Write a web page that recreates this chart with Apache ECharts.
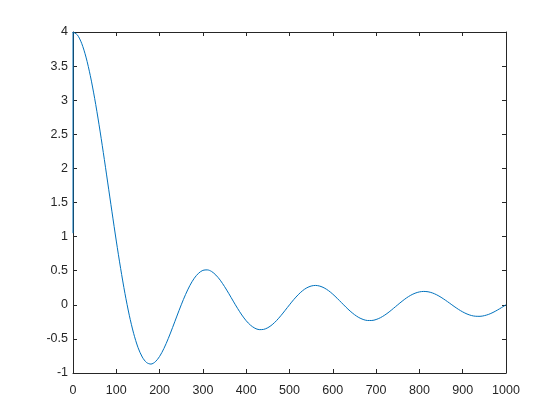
<!DOCTYPE html>
<html>
<head>
<meta charset="utf-8">
<script src="https://cdn.jsdelivr.net/npm/echarts@6/dist/echarts.min.js"></script>
<style>html,body{margin:0;padding:0;background:#fff}#c{width:560px;height:420px}</style>
</head>
<body>
<div id="c"></div>
<script>
// x positions of samples
var xValues = [];
for (var i = 0; i <= 100; i++) xValues.push(i * 10);
// y values at each x
var yValues = [
  4.000, 3.958, 3.834, 3.632, 3.359, 3.027, 2.647, 2.233, 1.800, 1.363,
  0.935, 0.533, 0.166, -0.153, -0.418, -0.624, -0.766, -0.847, -0.869, -0.836,
  -0.757, -0.640, -0.495, -0.333, -0.165, 0.000, 0.152, 0.284, 0.389, 0.463,
  0.505, 0.512, 0.489, 0.436, 0.361, 0.267, 0.163, 0.054, -0.052, -0.150,
  -0.234, -0.299, -0.343, -0.364, -0.361, -0.336, -0.292, -0.232, -0.160, -0.081,
  0.000, 0.078, 0.147, 0.206, 0.249, 0.275, 0.284, 0.274, 0.248, 0.208,
  0.156, 0.096, 0.032, -0.032, -0.092, -0.144, -0.186, -0.215, -0.230, -0.230,
  -0.216, -0.189, -0.151, -0.105, -0.053, 0.000, 0.052, 0.100, 0.140, 0.170,
  0.189, 0.196, 0.191, 0.174, 0.146, 0.110, 0.068, 0.023, -0.023, -0.066,
  -0.104, -0.135, -0.157, -0.168, -0.169, -0.159, -0.140, -0.112, -0.078, -0.040,
  0.000
];
// initial vertical segment at x = 0
var startX = [0, 0];
var startY = [1.05, 4.0];

var xTicks = {min: 0, max: 1000, interval: 100};
var yTicks = {min: -1, max: 4, interval: 0.5};

var mainData = xValues.map(function (x, i) { return [x, yValues[i]]; });
var startData = startX.map(function (x, i) { return [x, startY[i]]; });

var axisColor = '#262626';
var font = 'Liberation Sans, Arial, Helvetica, sans-serif';
function plain(v) { return String(v); }
function xAx(pos, showLabel) {
  return {
    type: 'value', position: pos, min: xTicks.min, max: xTicks.max, interval: xTicks.interval,
    axisLine: {show: true, onZero: false, lineStyle: {color: axisColor, width: 1}},
    axisTick: {show: true, inside: true, length: 4, lineStyle: {color: axisColor}},
    axisLabel: {show: showLabel, color: axisColor, fontSize: 12.5, fontFamily: font, margin: 11, formatter: plain},
    splitLine: {show: false}
  };
}
function yAx(pos, showLabel) {
  return {
    type: 'value', position: pos, min: yTicks.min, max: yTicks.max, interval: yTicks.interval,
    axisLine: {show: true, onZero: false, lineStyle: {color: axisColor, width: 1}},
    axisTick: {show: true, inside: true, length: 4, lineStyle: {color: axisColor}},
    axisLabel: {show: showLabel, color: axisColor, fontSize: 12.5, fontFamily: font, margin: 5, formatter: plain},
    splitLine: {show: false}
  };
}

var chart = echarts.init(document.getElementById('c'), null, {renderer: 'canvas'});
chart.setOption({
  animation: false,
  backgroundColor: '#ffffff',
  grid: {left: 73, top: 32, right: 54, bottom: 47, containLabel: false},
  xAxis: [xAx('bottom', true), xAx('top', false)],
  yAxis: [yAx('left', true), yAx('right', false)],
  series: [
    {type: 'line', data: startData, showSymbol: false, symbol: 'none',
     lineStyle: {color: '#0072BD', width: 1}, xAxisIndex: 0, yAxisIndex: 0},
    {type: 'line', data: mainData, showSymbol: false, symbol: 'none', smooth: 0.3,
     lineStyle: {color: '#0072BD', width: 1}, xAxisIndex: 0, yAxisIndex: 0}
  ]
});
</script>
</body>
</html>
